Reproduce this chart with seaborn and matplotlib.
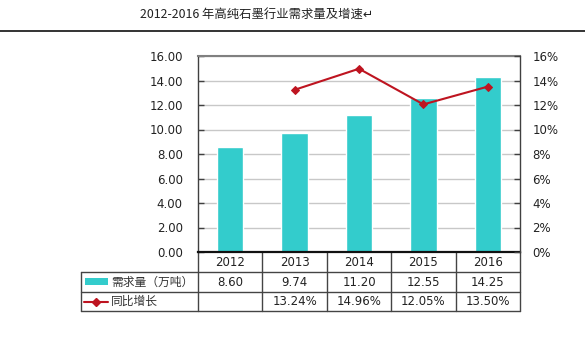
import matplotlib
matplotlib.use("Agg")
import matplotlib.pyplot as plt
import matplotlib.transforms as mtransforms
from matplotlib.lines import Line2D
from matplotlib.patches import Rectangle
import seaborn as sns
import pandas as pd

# ---- data ----
years = ["2012", "2013", "2014", "2015", "2016"]
demand = [8.60, 9.74, 11.20, 12.55, 14.25]
growth = [None, 13.24, 14.96, 12.05, 13.50]
demand_labels = ["8.60", "9.74", "11.20", "12.55", "14.25"]
growth_labels = ["", "13.24%", "14.96%", "12.05%", "13.50%"]
left_ticks = [0, 2, 4, 6, 8, 10, 12, 14, 16]
left_tick_labels = ["0.00", "2.00", "4.00", "6.00", "8.00", "10.00", "12.00", "14.00", "16.00"]
right_ticks = [0, 2, 4, 6, 8, 10, 12, 14, 16]
right_tick_labels = ["0%", "2%", "4%", "6%", "8%", "10%", "12%", "14%", "16%"]
title = "2012-2016 年高纯石墨行业需求量及增速↵"
row_names = ["需求量（万吨）", "同比增长"]

BAR_C = "#33CCCC"
LINE_C = "#BE1420"
NUM_FONT = ["DejaVu Sans"]
NUM_SIZE = 8.5

sns.set_theme(style="white")
plt.rcParams['font.family'] = ['Noto Sans CJK SC', 'DejaVu Sans']

W, H = 585, 338
fig = plt.figure(figsize=(W / 100, H / 100), dpi=100)
fig.patch.set_facecolor("white")

def fx(px):
    return px / W

def fy(py):
    return 1 - py / H

L, R, T, B = 198, 520, 56, 252
ax = fig.add_axes([fx(L), fy(B), fx(R) - fx(L), fy(T) - fy(B)])

df = pd.DataFrame({"year": years, "demand": demand})
sns.barplot(data=df, x="year", y="demand", ax=ax, color=BAR_C,
            saturation=1, width=0.41, zorder=2)
ax.set_xlim(-0.5, len(years) - 0.5)
ax.set_ylim(0, 16)
ax.set_yticks(left_ticks)
ax.set_yticklabels(left_tick_labels, family=NUM_FONT)
ax.set_xticks([])
ax.set_xlabel("")
ax.set_ylabel("")
ax.yaxis.grid(True, color="#C8C8C8", lw=1)
ax.set_axisbelow(True)
ax.tick_params(axis="y", direction="in", length=4, width=1, color="#404040",
               pad=11, labelsize=NUM_SIZE, labelcolor="#222222")
ax.spines["top"].set_color("#808080"); ax.spines["top"].set_linewidth(1.5)
ax.spines["bottom"].set_color("#111111"); ax.spines["bottom"].set_linewidth(1.6)
ax.spines["left"].set_color("#404040"); ax.spines["left"].set_linewidth(1)
ax.spines["right"].set_visible(False)

ax2 = ax.twinx()
gdf = pd.DataFrame({"pos": [i for i, g in enumerate(growth) if g is not None],
                    "growth": [g for g in growth if g is not None]})
sns.lineplot(data=gdf, x="pos", y="growth", ax=ax2, color=LINE_C, lw=1.5,
             marker="D", markersize=4.5, markeredgecolor=LINE_C, zorder=3)
ax2.set_xlim(-0.5, len(years) - 0.5)
ax2.set_ylim(0, 16)
ax2.set_yticks(right_ticks)
ax2.set_yticklabels(right_tick_labels, family=NUM_FONT)
ax2.set_xlabel("")
ax2.set_ylabel("")
ax2.tick_params(axis="y", direction="in", length=4, width=1, color="#404040",
                pad=9, labelsize=NUM_SIZE, labelcolor="#222222")
for s in ["top", "bottom", "left"]:
    ax2.spines[s].set_visible(False)
ax2.spines["right"].set_color("#404040"); ax2.spines["right"].set_linewidth(1)

# ---- table below the plot ----
trans = mtransforms.blended_transform_factory(ax.transData, fig.transFigure)
row_year_y, row1_y, row2_y = 262, 282, 301.5
for i, yr in enumerate(years):
    ax.text(i, fy(row_year_y), yr, transform=trans, ha="center", va="center",
            fontsize=NUM_SIZE, family=NUM_FONT, color="#222222", clip_on=False)
    ax.text(i, fy(row1_y), demand_labels[i], transform=trans, ha="center", va="center",
            fontsize=NUM_SIZE, family=NUM_FONT, color="#222222", clip_on=False)
    ax.text(i, fy(row2_y), growth_labels[i], transform=trans, ha="center", va="center",
            fontsize=NUM_SIZE, family=NUM_FONT, color="#222222", clip_on=False)

grid_c = "#444444"
for py in [272, 292, 311]:
    fig.add_artist(Line2D([fx(81), fx(R)], [fy(py), fy(py)], color=grid_c, lw=1,
                          transform=fig.transFigure))
for b in range(len(years) + 1):
    xb = b - 0.5
    ax.add_artist(Line2D([xb, xb], [fy(B), fy(311)], color=grid_c, lw=1,
                         transform=trans, clip_on=False))
fig.add_artist(Line2D([fx(81), fx(81)], [fy(272), fy(311)], color=grid_c, lw=1,
                      transform=fig.transFigure))

# legend keys in the table
fig.add_artist(Rectangle((fx(85), fy(284.5)), fx(108) - fx(85), fy(278) - fy(284.5),
                         facecolor=BAR_C, edgecolor="none", transform=fig.transFigure))
fig.add_artist(Line2D([fx(84), fx(108)], [fy(301.5), fy(301.5)], color=LINE_C, lw=1.5,
                      transform=fig.transFigure))
fig.add_artist(Line2D([fx(96)], [fy(301.5)], color=LINE_C, marker="D", markersize=4.5,
                      transform=fig.transFigure))
fig.text(fx(111), fy(row1_y), row_names[0], ha="left", va="center", fontsize=8.5, color="#333333")
fig.text(fx(111), fy(row2_y), row_names[1], ha="left", va="center", fontsize=8.5, color="#333333")

# ---- title and rule ----
fig.text(fx(257), fy(14), title, ha="center", va="center", fontsize=8.9, color="#222222")
fig.add_artist(Line2D([0, 1], [fy(31), fy(31)], color="#111111", lw=1.2,
                      transform=fig.transFigure))

fig.savefig("out.png", dpi=100, facecolor="white")
